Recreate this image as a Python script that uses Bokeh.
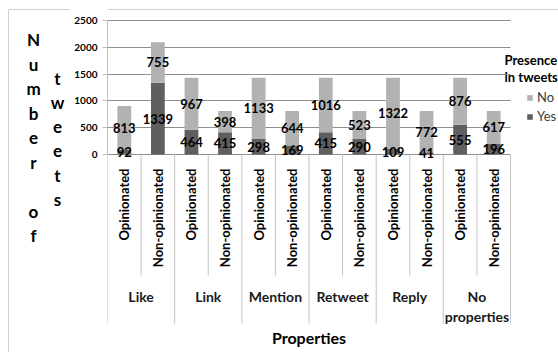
import math
from bokeh.plotting import figure
from bokeh.layouts import row
from bokeh.models import (Range1d, FixedTicker, ColumnDataSource, Legend, LegendItem, Label)
from bokeh.core.properties import value
from bokeh.embed import file_html
from bokeh.resources import INLINE

# ---- data -------------------------------------------------------------
groups = ["Like", "Link", "Mention", "Retweet", "Reply", "No properties"]
classes = ["Opinionated", "Non-opinionated"]
yes_counts = [92, 1339, 464, 415, 298, 169, 415, 290, 109, 41, 555, 196]
no_counts = [813, 755, 967, 398, 1133, 644, 1016, 523, 1322, 772, 876, 617]
y_ticks = [0, 500, 1000, 1500, 2000, 2500]
series_names = ["No", "Yes"]
legend_title = ["Presence", "in tweets"]
y_title = ["Number of", "tweets"]
x_title = "Properties"

# ---- layout (absolute pixels on the page) -----------------------------
W, H = 558, 352
TITLE_W = 70        # width of the strip holding the stacked axis title
LEFT = 107          # left edge of the plotting frame / value axis
PLOT_RIGHT = 510    # right end of the category area
ZERO_PX = 154       # pixel row of value 0
TOP_PX = 20         # pixel row of the top tick
n_bars = len(yes_counts)
SLOT = (PLOT_RIGHT - LEFT) / n_bars
K = (ZERO_PX - TOP_PX) / y_ticks[-1]

FONT_NAME = "Lato"
FONT = value(FONT_NAME)
YES_C = "#5f5f5f"
NO_C = "#b2b2b2"
GRID_C = "#8f8f8f"
TABLE_C = "#c4c4c4"
BORDER_C = "#d0d0d0"


def xd(px):
    return (px - LEFT) / SLOT


def yd(py):
    return (ZERO_PX - py) / K


# ---- strip with the stacked-letter value-axis title --------------------
t = figure(width=TITLE_W, height=H, x_range=Range1d(0, TITLE_W), y_range=Range1d(H, 0),
           output_backend="svg", toolbar_location=None,
           x_axis_type=None, y_axis_type=None,
           min_border_left=0, min_border_right=0, min_border_top=0, min_border_bottom=0)
t.outline_line_color = None
t.xgrid.visible = False
t.ygrid.visible = False
t.segment(x0=[8, 8], y0=[9, 9], x1=[8, TITLE_W], y1=[H, 9], line_color=BORDER_C, line_width=1)

lx, ly, lt = [], [], []
for word, cx, y0, step in zip(y_title, (33, 57), (39, 78), (24.5, 24.2)):
    for j, ch in enumerate(word):
        if ch != " ":
            lx.append(cx)
            ly.append(y0 + j * step)
            lt.append(ch)
t.text(x=lx, y=ly, text=lt, text_align="center", text_baseline="middle",
       text_font=FONT, text_font_style="bold", text_font_size="17px", text_color="#000000")

# ---- main chart ---------------------------------------------------------
p = figure(width=W - TITLE_W, height=H,
           x_range=Range1d(0, xd(W)), y_range=Range1d(yd(H), yd(0)),
           output_backend="svg", toolbar_location=None, x_axis_type=None,
           min_border_left=LEFT - TITLE_W, min_border_right=0,
           min_border_top=0, min_border_bottom=0)
p.outline_line_color = None
p.background_fill_color = "white"
p.border_fill_color = "white"

# top edge of the chart-area border
p.segment(x0=[xd(LEFT)], y0=[yd(9)], x1=[xd(W)], y1=[yd(9)], line_color=BORDER_C, line_width=1)

# value axis & grid
ax = p.yaxis[0]
ax.ticker = FixedTicker(ticks=y_ticks)
ax.bounds = (y_ticks[0], y_ticks[-1])
ax.axis_line_color = "#bfbfbf"
ax.major_tick_line_color = "#bfbfbf"
ax.major_tick_out = 5
ax.major_tick_in = 0
ax.minor_tick_line_color = None
ax.major_label_standoff = 5
ax.major_label_text_font = FONT_NAME
ax.major_label_text_font_style = "bold"
ax.major_label_text_font_size = "10px"
ax.major_label_text_color = "#000000"

p.xgrid.visible = False
p.ygrid.ticker = FixedTicker(ticks=y_ticks)
p.ygrid.grid_line_color = GRID_C
p.ygrid.cross_bounds = (0, n_bars)

# stacked bars
xs = [i + 0.5 for i in range(n_bars)]
totals = [y + n for y, n in zip(yes_counts, no_counts)]
src = ColumnDataSource(dict(
    x=xs, yes=yes_counts, total=totals,
    yes_mid=[y / 2 for y in yes_counts],
    no_mid=[y + n / 2 for y, n in zip(yes_counts, no_counts)],
    yes_txt=[str(v) for v in yes_counts],
    no_txt=[str(v) for v in no_counts],
))
r_yes = p.vbar(x="x", bottom=0, top="yes", width=0.41, fill_color=YES_C,
               line_color=None, source=src)
r_no = p.vbar(x="x", bottom="yes", top="total", width=0.41, fill_color=NO_C,
              line_color=None, source=src)

for col in ("yes", "no"):
    p.text(x="x", y=f"{col}_mid", text=f"{col}_txt", source=src,
           text_align="center", text_baseline="middle", text_font=FONT,
           text_font_style="bold", text_font_size="13px", text_color="#000000")

# category table below the bars
n_groups = len(groups)
per = len(classes)
inner_x = [g * per + k for g in range(n_groups) for k in range(1, per)]
outer_x = [g * per for g in range(n_groups + 1)]
p.segment(x0=inner_x, y0=[0] * len(inner_x), x1=inner_x, y1=[yd(275)] * len(inner_x),
          line_color=TABLE_C, line_width=1)
p.segment(x0=outer_x, y0=[0] * len(outer_x), x1=outer_x, y1=[yd(323)] * len(outer_x),
          line_color=TABLE_C, line_width=1)

p.text(x=xs, y=[yd(168)] * n_bars, text=classes * n_groups, angle=math.pi / 2,
       text_align="right", text_baseline="middle", text_font=FONT,
       text_font_style="bold", text_font_size="13px", text_color="#000000")

group_x = [g * per + per / 2 for g in range(n_groups)]
group_txt = [g.replace(" ", "\n") if len(g) > 8 else g for g in groups]
p.text(x=group_x, y=[yd(287)] * n_groups, text=group_txt,
       text_align="center", text_baseline="top", text_font=FONT,
       text_font_style="bold", text_font_size="14px", text_line_height=1.2,
       text_color="#1a1a1a")

p.text(x=[n_bars / 2], y=[yd(337)], text=[x_title], text_align="center",
       text_baseline="middle", text_font=FONT, text_font_style="bold",
       text_font_size="16px", text_color="#000000")

# legend
for j, line in enumerate(legend_title):
    p.add_layout(Label(x=xd(504), y=yd(59 + j * 17), text=line,
                       text_align="left", text_baseline="middle",
                       text_font=FONT_NAME, text_font_style="bold",
                       text_font_size="13px", text_color="#000000"))

legend = Legend(items=[LegendItem(label=series_names[0], renderers=[r_no]),
                       LegendItem(label=series_names[1], renderers=[r_yes])],
                location=(526 - LEFT, H - 124), orientation="vertical",
                glyph_width=7, glyph_height=7, label_standoff=4, spacing=3,
                label_height=15, padding=0, margin=0,
                border_line_color=None, background_fill_alpha=0,
                label_text_font=FONT_NAME, label_text_font_size="13px",
                label_text_color="#404040")
p.add_layout(legend)

layout = row(t, p, spacing=0)
open("out.html", "w").write(file_html(layout, INLINE))
